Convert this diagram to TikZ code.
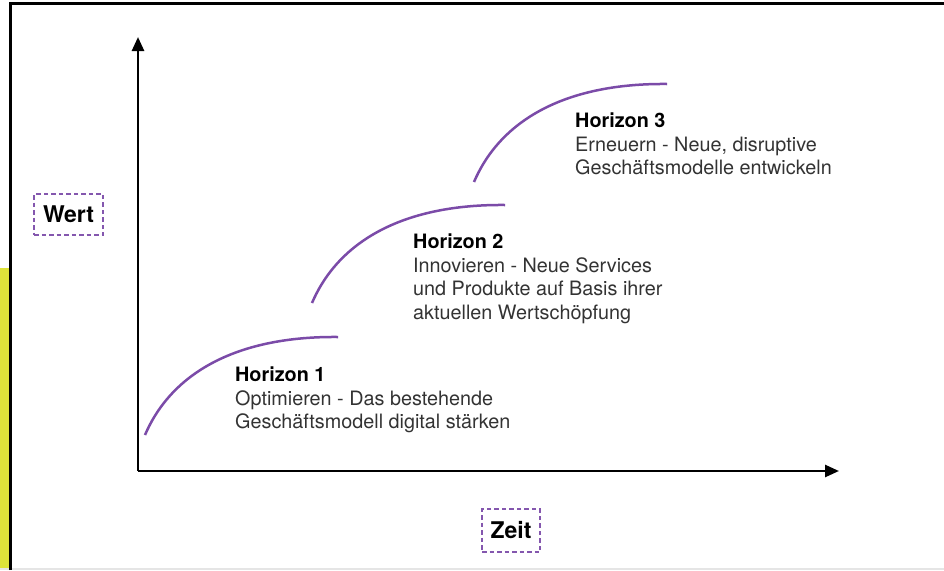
\documentclass[tikz,border=0pt]{standalone}
\usepackage{fontspec}
\setmainfont{TeX Gyre Heros}
\usetikzlibrary{arrows.meta}
\definecolor{curvepurple}{HTML}{7B4BA8}
\definecolor{dashpurple}{HTML}{8457AE}
\definecolor{sideyellow}{HTML}{DEE33A}
\definecolor{bodygrey}{HTML}{333333}
\tikzset{
  axisline/.style={line width=2.6pt, -{Triangle[length=14pt,width=12pt]}},
  horizoncurve/.style={curvepurple, line width=2.5pt},
  labelbox/.style={draw=dashpurple, line width=2.4pt, dash pattern=on 4.5pt off 3pt,
    font=\fontsize{23}{27}\selectfont\bfseries, text=black, inner sep=0pt},
  horizontext/.style={anchor=north west, inner sep=0pt, align=left, text=bodygrey,
    font=\fontsize{19.8}{23.5}\selectfont},
}
\begin{document}
\begin{tikzpicture}[x=1pt,y=-1pt]
\useasboundingbox (0,0) rectangle (944,570);
% frame
\fill[sideyellow] (0,268) rectangle (9.5,570);
\draw[black!10, line width=1.5pt] (0,568.8) -- (944,568.8);
\draw[line width=2.2pt] (10.5,570) -- (10.5,3.5) -- (944,3.5);
% axes
\coordinate (origin) at (138,471);
\coordinate (ytip) at (138,37);
\coordinate (xtip) at (839,471);
\draw[axisline] (origin) -- (ytip);
\draw[axisline] (origin) -- (xtip);
% curves
\foreach \dx/\dy in {0/0, 167/-132, 329/-253}{
  \draw[horizoncurve] (145+\dx,435+\dy) .. controls (172+\dx,372+\dy) and (238+\dx,336+\dy) .. (338+\dx,337+\dy);
}
% texts
\node[horizontext] (h1) at (235,367) {\textbf{\textcolor{black}{Horizon 1}}\\Optimieren - Das bestehende\\Geschäftsmodell digital stärken};
\node[horizontext] (h2) at (413,234) {\textbf{\textcolor{black}{Horizon 2}}\\Innovieren - Neue Services\\und Produkte auf Basis ihrer\\aktuellen Wertschöpfung};
\node[horizontext] (h3) at (575,113) {\textbf{\textcolor{black}{Horizon 3}}\\Erneuern - Neue, disruptive\\Geschäftsmodelle entwickeln};
% axis labels
\node[labelbox, minimum width=69pt, minimum height=41pt] (wert) at (68.5,214.5) {Wert};
\node[labelbox, minimum width=58pt, minimum height=43pt] (zeit) at (511,530.5) {Zeit};
\end{tikzpicture}
\end{document}
